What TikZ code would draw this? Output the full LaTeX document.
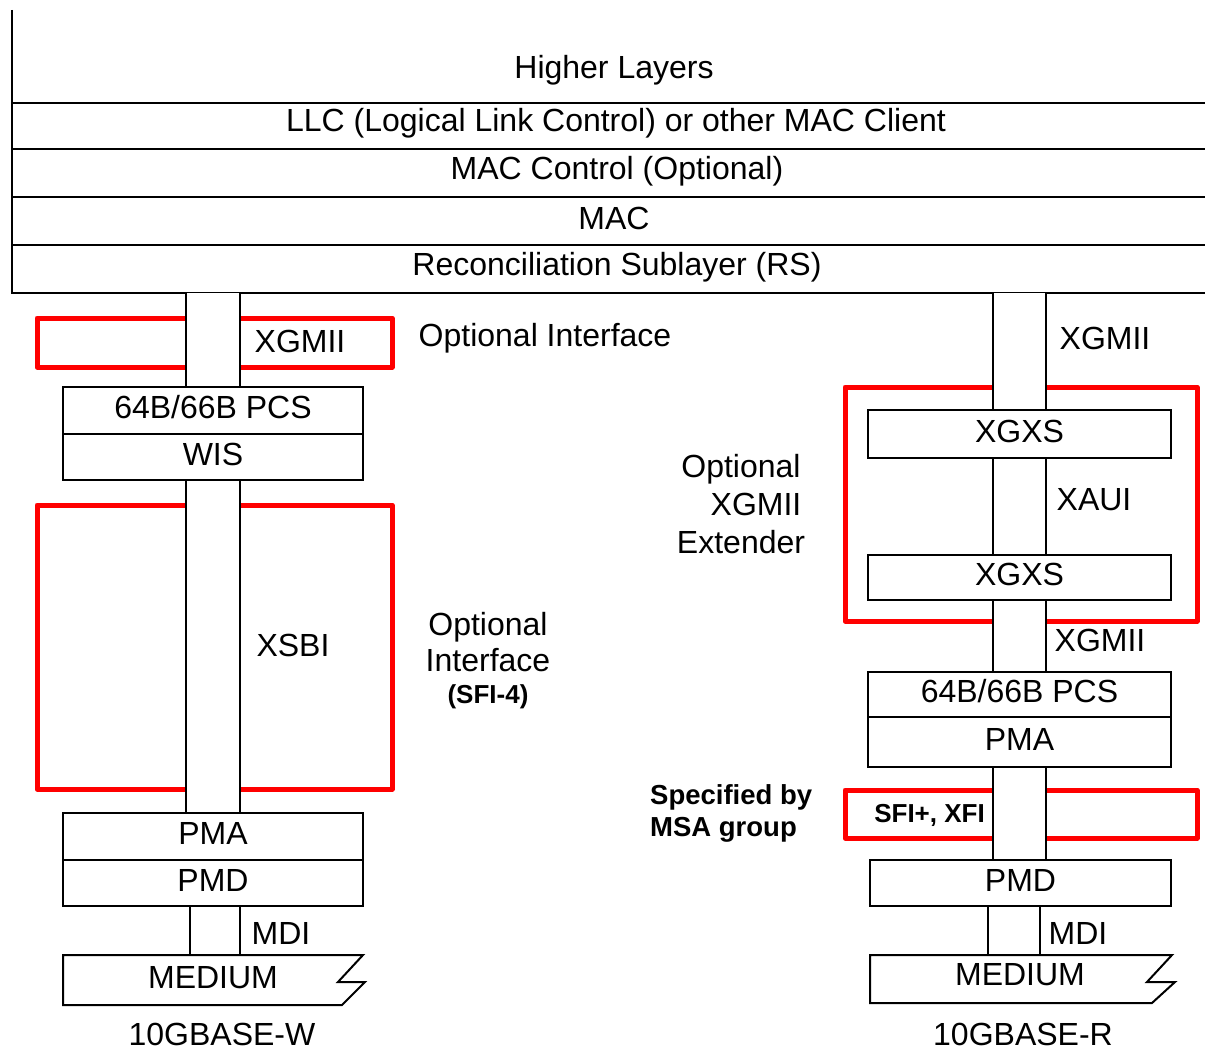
\documentclass[tikz,border=0pt]{standalone}
\usepackage{fontspec}
\setmainfont{Liberation Sans}
\begin{document}
\begin{tikzpicture}[x=1pt,y=-1pt,
  blk/.style={draw=black,line width=2pt,fill=white,inner sep=0pt},
  redbox/.style={draw=red,line width=5pt,line join=round},
  pipeside/.style={draw=black,line width=2pt},
  pipefill/.style={fill=white},
  lbl/.style={font=\fontsize{32}{36}\selectfont,inner sep=0pt},
  inlbl/.style={lbl,yshift=3pt},
  bld/.style={font=\fontsize{27.5}{31}\selectfont\bfseries,inner sep=0pt},
  blds/.style={font=\fontsize{26}{30}\selectfont\bfseries,inner sep=0pt}]
\useasboundingbox[fill=white] (0,0) rectangle (1205,1051);

% ---- top layer stack ----
\draw[line width=2pt] (12,10) -- (12,293) -- (1205,293);
\foreach \yy in {103,149,197,245} \draw[line width=2pt] (12,\yy) -- (1205,\yy);
\node[lbl] (hl)  at (614,70)  {Higher Layers};
\node[lbl] (llc) at (616,123) {LLC (Logical Link Control) or other MAC Client};
\node[lbl] (macc) at (617,171) {MAC Control (Optional)};
\node[lbl] (mac) at (614,218) {MAC};
\node[lbl] (rs)  at (617,267) {Reconciliation Sublayer (RS)};

% ---- red optional frames ----
\draw[redbox] (37,318) rectangle (392,367);
\draw[redbox] (37,505) rectangle (392,789);
\draw[redbox] (845,387) rectangle (1197,621);
\draw[redbox] (845,790) rectangle (1197,838);

% ---- pipes ----
\foreach \xa/\xb/\ya/\yb in {186/240/293/387, 186/240/480/813, 190/240/906/955,
                             993/1046/293/410, 993/1046/458/555, 993/1046/600/672,
                             993/1046/767/860, 988/1040/906/955}{
  \fill[pipefill] (\xa,\ya) rectangle (\xb,\yb);
  \draw[pipeside] (\xa,\ya) -- (\xa,\yb) (\xb,\ya) -- (\xb,\yb);
}

% ---- left stack boxes ----
\node[blk,minimum width=300,minimum height=47,label={[inlbl]center:64B/66B PCS}] (pcsL) at (213,410.5) {};
\node[blk,minimum width=300,minimum height=46,label={[inlbl]center:WIS}] (wisL) at (213,457) {};
\node[blk,minimum width=300,minimum height=47,label={[inlbl]center:PMA}] (pmaL) at (213,836.5) {};
\node[blk,minimum width=300,minimum height=46,label={[inlbl]center:PMD}] (pmdL) at (213,883) {};
\draw[line width=2pt,fill=white] (63,955) -- (363,955) -- (338,982) -- (365,982) -- (342,1005) -- (63,1005) -- cycle;
\node[lbl] (medL) at (213,978) {MEDIUM};

% ---- right stack boxes ----
\node[blk,minimum width=303,minimum height=48,label={[inlbl]center:XGXS}] (xgxs1) at (1019.5,434) {};
\node[blk,minimum width=303,minimum height=45,label={[inlbl]center:XGXS}] (xgxs2) at (1019.5,577.5) {};
\node[blk,minimum width=303,minimum height=45,label={[inlbl]center:64B/66B PCS}] (pcsR) at (1019.5,694.5) {};
\node[blk,minimum width=303,minimum height=50,label={[inlbl]center:PMA}] (pmaR) at (1019.5,742) {};
\node[blk,minimum width=301,minimum height=46,label={[inlbl]center:PMD}] (pmdR) at (1020.5,883) {};
\draw[line width=2pt,fill=white] (870,955) -- (1172,955) -- (1147,982) -- (1175,982) -- (1152,1003) -- (870,1003) -- cycle;
\node[lbl] (medR) at (1020,975) {MEDIUM};

% ---- labels ----
\node[lbl] (xgmiiL) at (300,341) {XGMII};
\node[lbl] (optL) at (545,338) {Optional Interface};
\node[lbl] (xsbi) at (293,645) {XSBI};
\node[lbl,align=center] (optL2) at (488,642) {Optional\\[-0.5pt]Interface};
\node[blds] (sfi4) at (488,697) {(SFI-4)};
\node[lbl] (mdiL) at (281,933) {MDI};
\node[lbl] (baseW) at (222,1034) {10GBASE-W};

\node[lbl] (xgmiiR1) at (1105,338) {XGMII};
\node[lbl] (xaui) at (1094,500) {XAUI};
\node[lbl] (xgmiiR2) at (1100,640) {XGMII};
\node[lbl,align=center] (ext) at (741,504) {Optional\\[2pt]\hspace*{30pt}XGMII\\[2pt]Extender};
\node[bld,align=left,anchor=west] (msa) at (650,813) {Specified by\\[1pt]MSA group};
\node[blds,anchor=east] (sfix) at (985,815) {SFI+, XFI};
\node[lbl] (mdiR) at (1078,933) {MDI};
\node[lbl] (baseR) at (1023,1034) {10GBASE-R};
\end{tikzpicture}
\end{document}
